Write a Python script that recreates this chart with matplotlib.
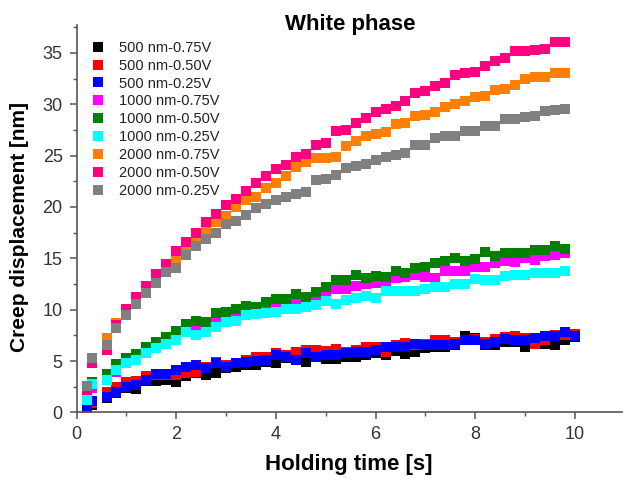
import matplotlib
matplotlib.use("Agg")
import matplotlib.pyplot as plt
from matplotlib.ticker import MultipleLocator

plt.rcParams['font.family'] = ['Liberation Sans', 'DejaVu Sans']

# holding time [s]
t = [0.2, 0.3, 0.6, 0.8, 1.0, 1.2, 1.4, 1.6, 1.8, 2.0, 2.2, 2.4, 2.6, 2.8, 3.0,
     3.2, 3.4, 3.6, 3.8, 4.0, 4.2, 4.4, 4.6, 4.8, 5.0, 5.2, 5.4, 5.6, 5.8, 6.0,
     6.2, 6.4, 6.6, 6.8, 7.0, 7.2, 7.4, 7.6, 7.8, 8.0, 8.2, 8.4, 8.6, 8.8, 9.0,
     9.2, 9.4, 9.6, 9.8]
t_500 = t + [10.0]

# creep displacement [nm]
d500_075 = [0.2, 0.7, 1.4, 1.9, 2.4, 2.3, 3.1, 3.1, 3.2, 3.0, 3.5, 3.8, 3.6, 3.85, 4.3,
            4.45, 4.6, 4.6, 4.95, 4.8, 5.3, 5.1, 4.9, 5.4, 5.2, 5.15, 5.4, 5.4, 5.6, 5.8,
            5.6, 6.0, 5.7, 5.9, 6.3, 6.4, 6.4, 6.6, 7.4, 7.2, 6.6, 6.55, 6.9, 6.9, 6.4,
            6.75, 6.65, 6.55, 7.05, 7.3]
d500_050 = [0.3, 0.9, 2.0, 2.5, 3.0, 3.1, 3.5, 3.6, 3.6, 3.6, 3.8, 3.95, 4.45, 4.95, 4.6,
            4.85, 5.1, 5.4, 5.4, 5.75, 5.6, 5.9, 6.05, 6.05, 6.0, 6.2, 5.9, 6.1, 6.4, 6.4,
            5.9, 6.55, 6.8, 6.6, 6.7, 7.05, 7.05, 6.9, 7.0, 7.1, 6.9, 7.1, 7.3, 7.4, 7.2,
            6.7, 7.0, 7.5, 7.5, 7.6]
d500_025 = [0.6, 1.1, 1.5, 2.0, 2.5, 2.65, 3.15, 3.7, 3.7, 4.1, 4.4, 4.6, 4.3, 4.8, 4.45,
            4.8, 4.9, 5.0, 5.1, 5.6, 5.4, 5.1, 5.75, 5.4, 5.55, 5.6, 5.75, 5.9, 5.9, 6.1,
            6.4, 6.4, 6.4, 6.7, 6.55, 6.55, 6.55, 6.7, 7.05, 7.05, 6.7, 6.9, 7.1, 7.05, 7.05,
            7.2, 7.4, 7.4, 7.85, 7.45]
d1000_075 = [1.9, 2.4, 3.6, 3.9, 4.9, 5.3, 6.0, 6.5, 7.0, 7.5, 8.0, 8.3, 8.5, 8.95, 9.2,
             9.5, 9.9, 9.9, 10.3, 10.5, 10.8, 11.0, 10.6, 11.3, 11.6, 12.0, 12.0, 12.3, 12.45, 12.55,
             12.7, 13.05, 13.2, 13.4, 13.2, 13.05, 13.8, 13.8, 13.8, 14.2, 14.2, 14.5, 14.7, 14.6, 15.0,
             14.85, 15.2, 15.35, 15.5]
d1000_050 = [1.5, 3.0, 3.7, 4.75, 5.25, 5.7, 6.4, 6.9, 7.35, 7.95, 8.6, 8.9, 8.8, 9.65, 9.8,
             10.1, 10.4, 10.3, 10.7, 11.0, 11.0, 11.55, 11.2, 11.7, 12.2, 12.9, 12.9, 13.35, 13.05, 13.3,
             13.15, 13.8, 13.6, 14.1, 14.2, 14.5, 14.7, 15.0, 14.7, 14.9, 15.65, 15.2, 15.55, 15.55, 15.55,
             15.8, 15.8, 16.2, 15.9]
d1000_025 = [1.2, 2.8, 3.15, 4.1, 4.8, 5.1, 5.75, 6.25, 6.7, 7.05, 7.85, 7.5, 7.85, 8.35, 8.8,
             8.9, 9.5, 9.6, 9.7, 9.8, 10.1, 10.1, 10.3, 10.45, 10.8, 10.6, 10.95, 11.1, 11.3, 11.15,
             11.8, 11.85, 11.85, 11.85, 12.05, 12.2, 12.2, 12.5, 12.5, 12.95, 12.9, 12.85, 13.3, 13.4, 13.4,
             13.6, 13.6, 13.6, 13.8]
d2000_075 = [2.4, 5.0, 7.2, 8.7, 9.9, 11.0, 12.2, 13.2, 14.2, 15.0, 16.0, 16.6, 17.6, 18.5, 19.1,
             20.0, 20.7, 20.95, 21.8, 22.3, 23.0, 23.9, 24.4, 24.75, 24.75, 24.9, 25.95, 26.45, 26.9, 27.1,
             27.25, 28.05, 28.15, 28.9, 29.0, 29.2, 29.7, 30.05, 30.35, 30.75, 30.8, 31.4, 31.5, 31.9, 32.45,
             32.7, 32.7, 33.0, 33.0]
d2000_050 = [2.2, 4.8, 6.1, 8.5, 10.1, 11.2, 12.3, 13.5, 14.45, 15.7, 16.6, 17.5, 18.5, 19.3, 20.2,
             20.8, 21.6, 22.35, 23.0, 23.7, 24.1, 24.9, 25.2, 26.05, 26.2, 27.35, 27.5, 28.2, 28.7, 29.2,
             29.5, 29.8, 30.3, 31.1, 31.25, 31.8, 32.1, 32.8, 33.0, 33.1, 33.75, 34.2, 34.5, 35.2, 35.2,
             35.3, 35.35, 36.05, 36.1]
d2000_025 = [2.6, 5.3, 6.6, 8.2, 9.5, 10.55, 11.6, 12.6, 13.7, 14.1, 15.3, 16.2, 16.9, 17.5, 18.3,
             18.6, 19.2, 19.9, 20.3, 20.7, 21.0, 21.3, 21.5, 22.6, 22.7, 23.1, 23.8, 24.0, 24.2, 24.6,
             24.85, 25.1, 25.3, 26.0, 26.0, 26.7, 26.9, 26.9, 27.35, 27.35, 27.85, 27.85, 28.55, 28.55, 28.75,
             28.9, 29.3, 29.45, 29.55]

series = [
    ("500 nm-0.75V", t_500, d500_075, "#000000"),
    ("500 nm-0.50V", t_500, d500_050, "#ff0000"),
    ("500 nm-0.25V", t_500, d500_025, "#0000ff"),
    ("1000 nm-0.75V", t, d1000_075, "#ff00ff"),
    ("1000 nm-0.50V", t, d1000_050, "#008000"),
    ("1000 nm-0.25V", t, d1000_025, "#00ffff"),
    ("2000 nm-0.75V", t, d2000_075, "#ff8000"),
    ("2000 nm-0.50V", t, d2000_050, "#ff0080"),
    ("2000 nm-0.25V", t, d2000_025, "#808080"),
]

fig = plt.figure(figsize=(6.23, 4.84), dpi=100)
ax = fig.add_axes([0.123, 0.148, 0.875, 0.80])

for label, x, y, c in series:
    ax.plot(x, y, linestyle='none', marker='s', markersize=6.5,
            color=c, markeredgewidth=0, label=label)

ax.set_xlim(0, 10.94)
ax.set_ylim(0, 37.7)
ax.xaxis.set_major_locator(MultipleLocator(2))
ax.xaxis.set_minor_locator(MultipleLocator(1))
ax.yaxis.set_major_locator(MultipleLocator(5))
ax.yaxis.set_minor_locator(MultipleLocator(2.5))

for s in ['top', 'right']:
    ax.spines[s].set_visible(False)
for s in ['left', 'bottom']:
    ax.spines[s].set_color('#555555')
    ax.spines[s].set_linewidth(1.2)

ax.tick_params(which='major', direction='out', length=5, width=1.1,
               color='#555555', labelsize=13, labelcolor='#333333', pad=5)
ax.tick_params(which='minor', direction='out', length=3, width=1.0, color='#555555')

ax.set_xlabel("Holding time [s]", fontsize=16, fontweight='bold')
ax.xaxis.set_label_coords(0.5, -0.108)
ax.set_ylabel("Creep displacement [nm]", fontsize=15, fontweight='bold')
ax.yaxis.set_label_coords(-0.088, 0.478)

# title sits slightly below the top end of the y axis, as in the original
fig.text(0.563, 1 - 30 / 484, "White phase", fontsize=16, fontweight='bold',
         ha='center', va='baseline')

leg = ax.legend(loc='upper left', bbox_to_anchor=(0.018, 0.975), frameon=False,
                fontsize=10.5, handlelength=0.8, handletextpad=1.0,
                labelspacing=0.27, borderaxespad=0.0, markerscale=1.2)
for txt in leg.get_texts():
    txt.set_color('#222222')

fig.savefig("out.png", dpi=100)
